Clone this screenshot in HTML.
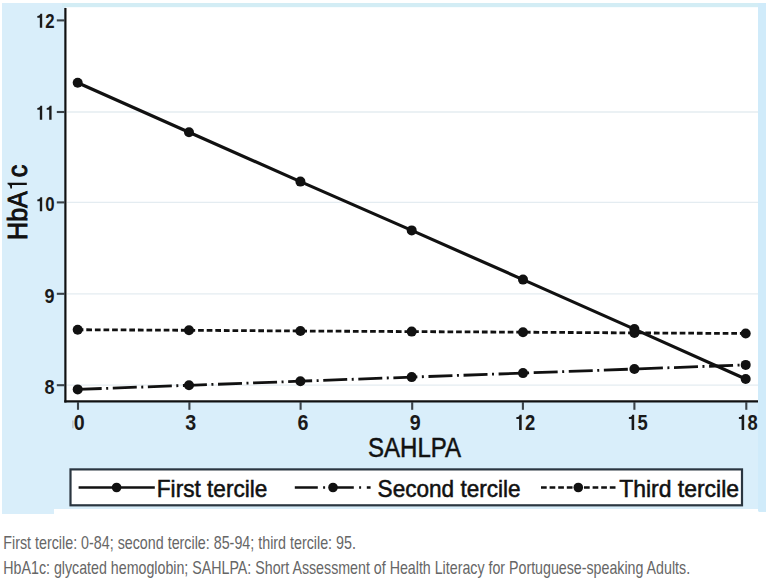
<!DOCTYPE html>
<html><head><meta charset="utf-8"><style>
html,body{margin:0;padding:0;background:#fff;width:768px;height:580px;overflow:hidden}
svg{display:block}
text{font-family:"Liberation Sans",sans-serif;fill:#111}
.tk{font-size:21.4px;font-weight:bold;fill:#1a1a1a}
.ty{font-size:19.6px}
.ptk{fill:#1a1a1a}
.pyl{fill:#111;stroke:#111;stroke-width:0.95}
.ax{font-size:27.5px;stroke:#111;stroke-width:0.5}
.yl{font-size:27px;stroke:#111;stroke-width:0.95}
.lg{font-size:24.5px;stroke:#111;stroke-width:0.55}
.cap{font-size:18.2px;fill:#666}
</style></head><body>
<svg width="768" height="580" viewBox="0 0 768 580">
<rect x="2" y="3" width="764" height="506" fill="#d9eefa"/>
<rect x="2" y="505" width="52" height="9" fill="#d9eefa"/>
<rect x="759" y="505" width="7" height="7" fill="#d2ecfa"/>
<rect x="62" y="3" width="704" height="4.2" fill="#d3edf5"/>
<rect x="758" y="3" width="8" height="508.5" fill="#d0ebfa"/>
<rect x="66" y="7.2" width="692" height="394" fill="#fff"/>
<line x1="67" x2="758" y1="112.0" y2="112.0" stroke="#e4ecf1" stroke-width="1.3"/>
<line x1="67" x2="758" y1="202.4" y2="202.4" stroke="#e4ecf1" stroke-width="1.3"/>
<line x1="67" x2="758" y1="293.8" y2="293.8" stroke="#e4ecf1" stroke-width="1.3"/>
<line x1="67" x2="758" y1="385.2" y2="385.2" stroke="#e4ecf1" stroke-width="1.3"/>
<line x1="65.4" x2="65.4" y1="8" y2="402.5" stroke="#111" stroke-width="2.2"/>
<line x1="64.3" x2="758" y1="401.4" y2="401.4" stroke="#111" stroke-width="2.2"/>
<line x1="56.8" x2="65" y1="20.4" y2="20.4" stroke="#3a4248" stroke-width="2.1"/>
<g transform="translate(54.60,27.75) scale(0.86,1)"><path transform="translate(-21.80,0) scale(0.0196,-0.0196)" d="M376 0L376 712L268 712C257 650 203 606 88 600L88 508L236 508L236 0Z" class="ptk ty"/><text x="-10.90" y="0" class="tk ty">2</text></g>
<line x1="56.8" x2="65" y1="112.0" y2="112.0" stroke="#3a4248" stroke-width="2.1"/>
<g transform="translate(54.60,119.65) scale(0.86,1)"><path transform="translate(-21.80,0) scale(0.0196,-0.0196)" d="M376 0L376 712L268 712C257 650 203 606 88 600L88 508L236 508L236 0Z" class="ptk ty"/><path transform="translate(-10.90,0) scale(0.0196,-0.0196)" d="M376 0L376 712L268 712C257 650 203 606 88 600L88 508L236 508L236 0Z" class="ptk ty"/></g>
<line x1="56.8" x2="65" y1="202.4" y2="202.4" stroke="#3a4248" stroke-width="2.1"/>
<g transform="translate(54.60,211.20) scale(0.86,1)"><path transform="translate(-21.80,0) scale(0.0196,-0.0196)" d="M376 0L376 712L268 712C257 650 203 606 88 600L88 508L236 508L236 0Z" class="ptk ty"/><text x="-10.90" y="0" class="tk ty">0</text></g>
<line x1="56.8" x2="65" y1="293.8" y2="293.8" stroke="#3a4248" stroke-width="2.1"/>
<g transform="translate(54.60,302.90) scale(0.92,1)"><text x="-10.90" y="0" class="tk ty">9</text></g>
<line x1="56.8" x2="65" y1="385.2" y2="385.2" stroke="#3a4248" stroke-width="2.1"/>
<g transform="translate(54.60,394.00) scale(0.92,1)"><text x="-10.90" y="0" class="tk ty">8</text></g>
<line x1="78.0" x2="78.0" y1="402" y2="409.8" stroke="#3a4248" stroke-width="2.1"/>
<g transform="translate(79.20,429.90) scale(0.92,1)"><text x="-5.95" y="0" class="tk">0</text></g>
<line x1="189.4" x2="189.4" y1="402" y2="409.8" stroke="#3a4248" stroke-width="2.1"/>
<g transform="translate(190.80,429.90) scale(0.92,1)"><text x="-5.95" y="0" class="tk">3</text></g>
<line x1="300.6" x2="300.6" y1="402" y2="409.8" stroke="#3a4248" stroke-width="2.1"/>
<g transform="translate(302.90,429.90) scale(0.92,1)"><text x="-5.95" y="0" class="tk">6</text></g>
<line x1="412.2" x2="412.2" y1="402" y2="409.8" stroke="#3a4248" stroke-width="2.1"/>
<g transform="translate(415.10,429.90) scale(0.92,1)"><text x="-5.95" y="0" class="tk">9</text></g>
<line x1="522.9" x2="522.9" y1="402" y2="409.8" stroke="#3a4248" stroke-width="2.1"/>
<g transform="translate(525.00,429.90) scale(0.86,1)"><path transform="translate(-11.90,0) scale(0.0214,-0.0214)" d="M376 0L376 712L268 712C257 650 203 606 88 600L88 508L236 508L236 0Z" class="ptk"/><text x="0.00" y="0" class="tk">2</text></g>
<line x1="634.4" x2="634.4" y1="402" y2="409.8" stroke="#3a4248" stroke-width="2.1"/>
<g transform="translate(637.50,429.90) scale(0.86,1)"><path transform="translate(-11.90,0) scale(0.0214,-0.0214)" d="M376 0L376 712L268 712C257 650 203 606 88 600L88 508L236 508L236 0Z" class="ptk"/><text x="0.00" y="0" class="tk">5</text></g>
<line x1="746.3" x2="746.3" y1="402" y2="409.8" stroke="#3a4248" stroke-width="2.1"/>
<g transform="translate(747.50,429.90) scale(0.86,1)"><path transform="translate(-11.90,0) scale(0.0214,-0.0214)" d="M376 0L376 712L268 712C257 650 203 606 88 600L88 508L236 508L236 0Z" class="ptk"/><text x="0.00" y="0" class="tk">8</text></g>
<line x1="72.9" x2="72.9" y1="420.5" y2="428.3" stroke="#bbb" stroke-width="1.2"/>
<polyline points="77.7,329.7 189.0,330.3 300.4,331.0 411.7,331.6 523.0,332.2 634.4,332.9 745.7,333.5" fill="none" stroke="#111" stroke-width="2.8" stroke-dasharray="5.7 2.9"/>
<polyline points="77.7,389.4 189.0,385.3 300.4,381.2 411.7,377.1 523.0,373.1 634.4,369.0 745.7,364.9" fill="none" stroke="#111" stroke-width="2.8" stroke-dasharray="24 4.5 2 4.6"/>
<polyline points="77.7,82.7 189.0,132.3 300.4,181.6 411.7,230.4 523.0,279.6 634.4,329.1 745.7,379.0" fill="none" stroke="#111" stroke-width="3.2"/>
<g fill="#111"><circle cx="77.7" cy="329.7" r="5"/><circle cx="189.0" cy="330.3" r="5"/><circle cx="300.4" cy="331.0" r="5"/><circle cx="411.7" cy="331.6" r="5"/><circle cx="523.0" cy="332.2" r="5"/><circle cx="634.4" cy="332.9" r="5"/><circle cx="745.7" cy="333.5" r="5"/><circle cx="77.7" cy="389.4" r="5"/><circle cx="189.0" cy="385.3" r="5"/><circle cx="300.4" cy="381.2" r="5"/><circle cx="411.7" cy="377.1" r="5"/><circle cx="523.0" cy="373.1" r="5"/><circle cx="634.4" cy="369.0" r="5"/><circle cx="745.7" cy="364.9" r="5"/><circle cx="77.7" cy="82.7" r="5"/><circle cx="189.0" cy="132.3" r="5"/><circle cx="300.4" cy="181.6" r="5"/><circle cx="411.7" cy="230.4" r="5"/><circle cx="523.0" cy="279.6" r="5"/><circle cx="634.4" cy="329.1" r="5"/><circle cx="745.7" cy="379.0" r="5"/></g>
<text x="367.9" y="456.9" class="ax" textLength="93.2" lengthAdjust="spacingAndGlyphs">SAHLPA</text>
<g transform="translate(26.8,240.0) rotate(-90) translate(0.00,0.00) scale(0.93,1)"><text x="0.00" y="0" class="yl">HbA</text><path transform="translate(52.52,0) scale(0.0270,-0.0270)" d="M336 0L336 712L272 712C262 644 212 614 108 609L108 548L248 548L248 0Z" class="pyl"/><text x="67.53" y="0" class="yl">c</text></g>
<rect x="70.5" y="469.4" width="671.5" height="35.9" fill="#fff" stroke="#2b3640" stroke-width="2.2"/>
<line x1="78.6" x2="154.8" y1="487.5" y2="487.5" stroke="#111" stroke-width="2.5"/><circle cx="116.6" cy="487.5" r="4.8" fill="#111"/>
<line x1="294.8" x2="370.6" y1="487.5" y2="487.5" stroke="#111" stroke-width="2.5" stroke-dasharray="23 5.3 2 5.7"/><circle cx="333" cy="487.5" r="4.8" fill="#111"/>
<line x1="541" x2="615.5" y1="487.5" y2="487.5" stroke="#111" stroke-width="2.5" stroke-dasharray="5.7 2.9"/><circle cx="578.3" cy="487.5" r="4.8" fill="#111"/>
<text x="156.8" y="497" class="lg" textLength="110.6" lengthAdjust="spacingAndGlyphs">First tercile</text>
<text x="377.6" y="497" class="lg" textLength="143" lengthAdjust="spacingAndGlyphs">Second tercile</text>
<text x="619.2" y="497" class="lg" textLength="119.8" lengthAdjust="spacingAndGlyphs">Third tercile</text>
<text x="3.3" y="549.2" class="cap" textLength="352.6" lengthAdjust="spacingAndGlyphs">First tercile: 0-84; second tercile: 85-94; third tercile: 95.</text>
<text x="3.3" y="574.1" class="cap" textLength="686.8" lengthAdjust="spacingAndGlyphs">HbA1c: glycated hemoglobin; SAHLPA: Short Assessment of Health Literacy for Portuguese-speaking Adults.</text>
</svg>
</body></html>
